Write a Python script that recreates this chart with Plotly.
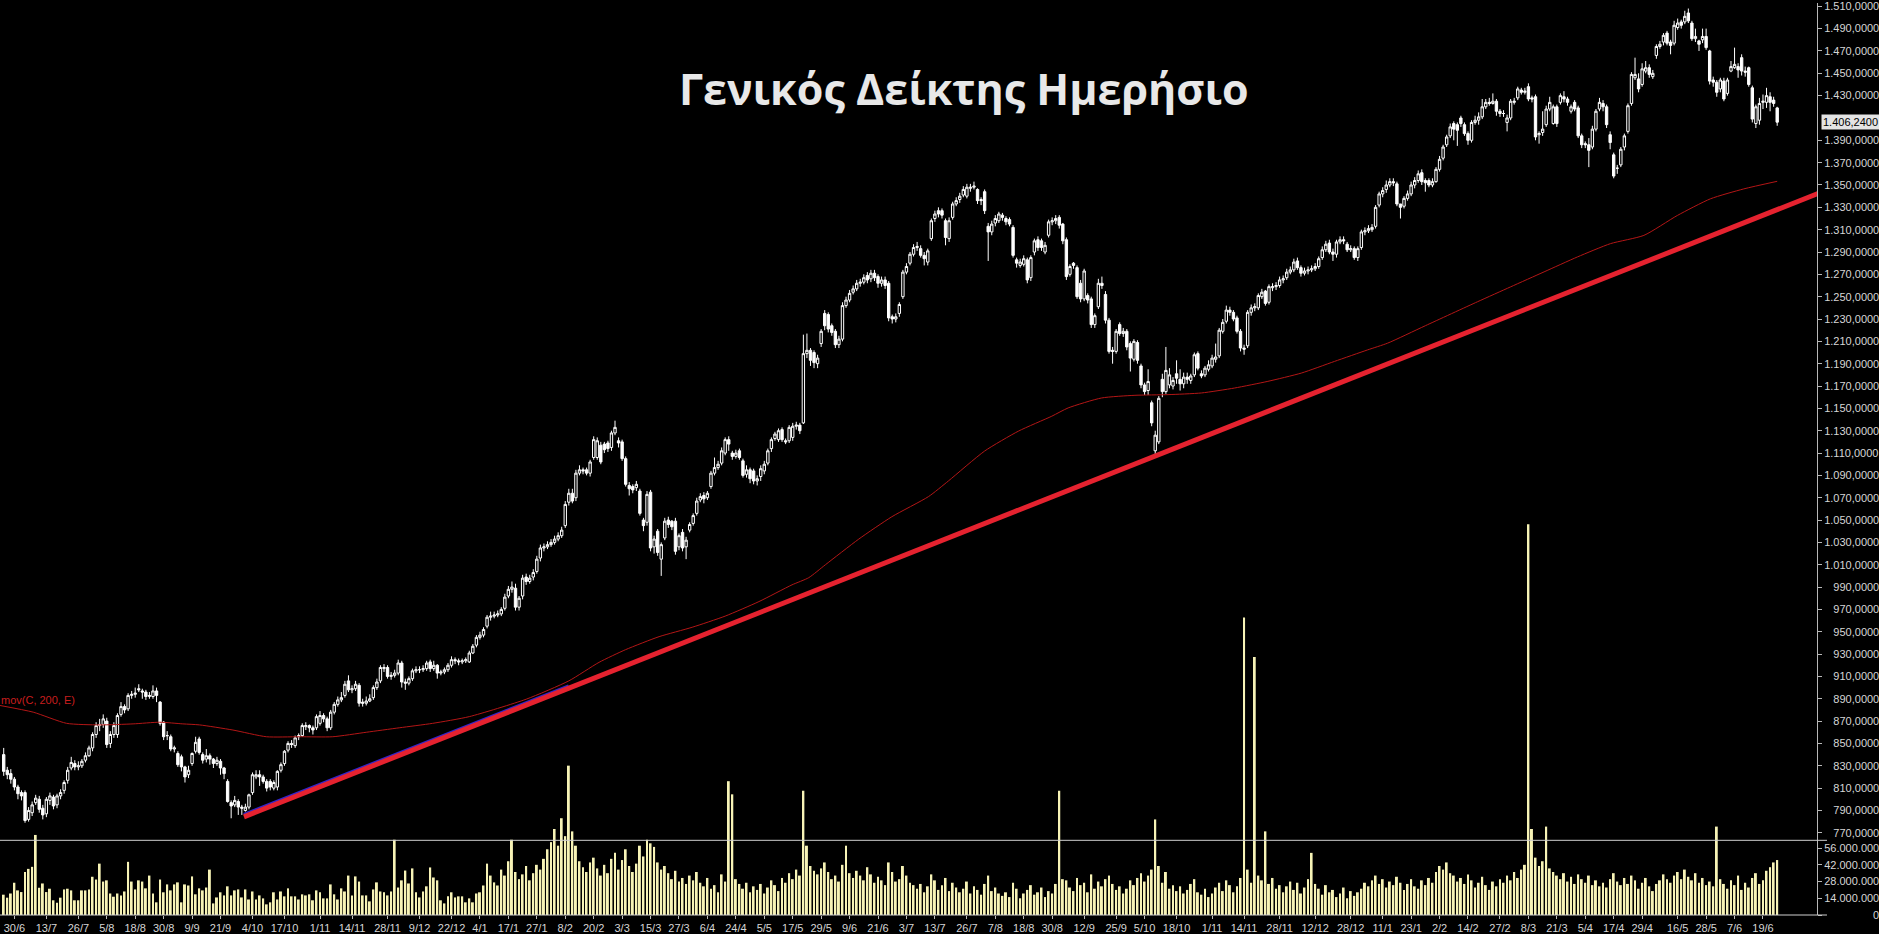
import pandas as pd
import plotly.graph_objects as go

# Athens General Index, daily bars 27/6/2022 .. 26/6/2024
closes = [
    825, 822, 818, 811, 805, 803, 781, 790, 795, 801,
    791, 786, 800, 803, 794, 803, 806, 815, 826, 833,
    829, 830, 834, 839, 846, 858, 866, 867, 872, 849,
    858, 866, 875, 883, 880, 893, 894, 895, 898, 896,
    892, 893, 897, 893, 868, 856, 857, 845, 846, 831,
    829, 820, 826, 841, 851, 842, 835, 839, 836, 832,
    835, 828, 823, 798, 794, 799, 793, 792, 793, 804,
    822, 822, 820, 816, 810, 811, 815, 825, 831, 843,
    850, 849, 855, 857, 866, 866, 864, 862, 874, 875,
    872, 864, 878, 885, 889, 891, 903, 898, 899, 903,
    886, 886, 888, 890, 900, 905, 918, 918, 910, 911,
    913, 922, 905, 904, 908, 915, 916, 916, 917, 922,
    917, 920, 913, 914, 916, 920, 925, 924, 923, 924,
    925, 931, 937, 945, 947, 952, 963, 964, 965, 966,
    970, 981, 988, 990, 972, 980, 998, 995, 998, 1003,
    1015, 1025, 1026, 1028, 1030, 1033, 1036, 1041, 1064, 1074,
    1067, 1092, 1095, 1094, 1092, 1102, 1122, 1121, 1102, 1113,
    1114, 1128, 1133, 1119, 1105, 1082, 1078, 1077, 1082, 1056,
    1045, 1073, 1025, 1033, 1021, 1028, 1049, 1046, 1044, 1022,
    1036, 1025, 1032, 1046, 1054, 1067, 1071, 1069, 1074, 1092,
    1097, 1100, 1112, 1122, 1118, 1107, 1110, 1106, 1090, 1095,
    1087, 1085, 1087, 1096, 1100, 1112, 1122, 1127, 1130, 1122,
    1120, 1133, 1134, 1135, 1130, 1199, 1202, 1193, 1191, 1195,
    1219, 1224, 1221, 1218, 1207, 1212, 1242, 1247, 1253, 1257,
    1262, 1263, 1267, 1265, 1271, 1267, 1262, 1265, 1260, 1231,
    1230, 1232, 1243, 1272, 1277, 1288, 1294, 1295, 1287, 1284,
    1291, 1318, 1324, 1324, 1323, 1303, 1318, 1333, 1336, 1340,
    1346, 1348, 1348, 1349, 1336, 1336, 1327, 1308, 1315, 1320,
    1324, 1321, 1317, 1315, 1287, 1280, 1281, 1284, 1265, 1285,
    1300, 1294, 1294, 1296, 1317, 1318, 1320, 1314, 1300, 1268,
    1277, 1278, 1250, 1248, 1273, 1247, 1225, 1233, 1262, 1260,
    1229, 1201, 1201, 1219, 1217, 1219, 1205, 1195, 1210, 1193,
    1171, 1165, 1174, 1137, 1126, 1159, 1165, 1184, 1180, 1175,
    1177, 1172, 1178, 1176, 1179, 1198, 1186, 1179, 1186, 1189,
    1195, 1196, 1220, 1227, 1238, 1236, 1230, 1219, 1204, 1203,
    1236, 1240, 1241, 1251, 1254, 1244, 1259, 1259, 1260, 1265,
    1266, 1272, 1274, 1281, 1276, 1271, 1273, 1274, 1275, 1277,
    1284, 1292, 1297, 1290, 1288, 1299, 1301, 1300, 1292, 1293,
    1285, 1293, 1308, 1309, 1311, 1312, 1330, 1342, 1345, 1350,
    1353, 1352, 1333, 1330, 1338, 1342, 1350, 1354, 1360, 1353,
    1352, 1350, 1353, 1364, 1373, 1384, 1393, 1402, 1400, 1399,
    1405, 1396, 1390, 1406, 1408, 1411, 1420, 1424, 1423, 1425,
    1416, 1414, 1414, 1410, 1425, 1425, 1436, 1433, 1434, 1427,
    1427, 1393, 1396, 1400, 1418, 1424, 1420, 1405, 1430, 1427,
    1424, 1420, 1418, 1394, 1386, 1386, 1381, 1400, 1416, 1424,
    1420, 1404, 1388, 1358, 1365, 1382, 1394, 1421, 1449, 1449,
    1436, 1454, 1455, 1449, 1450, 1474, 1476, 1484, 1477, 1475,
    1493, 1495, 1493, 1501, 1497, 1481, 1483, 1476, 1483, 1473,
    1443, 1442, 1433, 1444, 1427, 1444, 1456, 1458, 1453, 1452,
    1451, 1440, 1409, 1420, 1423, 1425, 1430, 1424, 1423, 1406.24,
]

opens = [
    840, 826, 823, 818, 811, 806, 806, 782, 788, 797,
    800, 792, 787, 799, 802, 795, 803, 808, 817, 828,
    832, 829, 830, 835, 839, 846, 858, 866, 867, 870,
    850, 858, 858, 876, 883, 881, 893, 894, 899, 897,
    896, 892, 892, 897, 887, 869, 857, 856, 845, 841,
    838, 829, 822, 832, 843, 854, 840, 836, 839, 836,
    832, 834, 828, 816, 797, 795, 798, 793, 790, 793,
    806, 820, 822, 820, 816, 816, 810, 811, 826, 832,
    844, 850, 848, 856, 857, 865, 866, 864, 864, 868,
    875, 872, 864, 878, 885, 889, 893, 906, 898, 899,
    902, 887, 886, 888, 891, 900, 906, 917, 918, 910,
    911, 913, 922, 905, 904, 908, 915, 916, 916, 917,
    923, 917, 920, 913, 914, 916, 920, 925, 924, 923,
    924, 923, 931, 938, 945, 947, 955, 963, 964, 965,
    966, 971, 982, 988, 989, 972, 982, 999, 995, 999,
    1004, 1016, 1025, 1026, 1028, 1030, 1033, 1036, 1045, 1066,
    1074, 1070, 1092, 1095, 1095, 1092, 1106, 1106, 1117, 1118,
    1119, 1115, 1128, 1121, 1120, 1105, 1081, 1080, 1079, 1076,
    1050, 1048, 1075, 1026, 1040, 1015, 1034, 1050, 1049, 1049,
    1026, 1039, 1026, 1041, 1047, 1056, 1068, 1072, 1070, 1080,
    1092, 1097, 1101, 1110, 1122, 1110, 1107, 1112, 1103, 1091,
    1095, 1094, 1085, 1089, 1094, 1101, 1114, 1123, 1122, 1131,
    1121, 1121, 1124, 1134, 1135, 1137, 1199, 1202, 1200, 1190,
    1208, 1235, 1234, 1224, 1219, 1207, 1212, 1242, 1247, 1254,
    1257, 1262, 1263, 1269, 1266, 1271, 1268, 1262, 1265, 1262,
    1232, 1230, 1235, 1250, 1272, 1280, 1288, 1294, 1293, 1287,
    1281, 1302, 1320, 1327, 1327, 1318, 1302, 1321, 1333, 1337,
    1341, 1340, 1347, 1348, 1346, 1337, 1344, 1313, 1308, 1316,
    1318, 1323, 1320, 1319, 1312, 1283, 1278, 1279, 1283, 1267,
    1290, 1301, 1300, 1290, 1305, 1317, 1318, 1321, 1315, 1301,
    1270, 1280, 1276, 1262, 1248, 1251, 1248, 1225, 1241, 1262,
    1252, 1229, 1202, 1201, 1225, 1217, 1219, 1208, 1194, 1209,
    1188, 1171, 1166, 1155, 1112, 1120, 1176, 1165, 1171, 1170,
    1181, 1176, 1172, 1178, 1175, 1180, 1199, 1181, 1180, 1185,
    1188, 1194, 1197, 1219, 1228, 1238, 1236, 1231, 1219, 1204,
    1206, 1236, 1240, 1240, 1250, 1255, 1245, 1258, 1259, 1260,
    1265, 1267, 1272, 1274, 1282, 1276, 1271, 1273, 1274, 1275,
    1277, 1285, 1292, 1298, 1290, 1288, 1299, 1301, 1297, 1292,
    1293, 1285, 1294, 1308, 1309, 1310, 1313, 1332, 1342, 1346,
    1350, 1353, 1351, 1333, 1331, 1338, 1342, 1350, 1354, 1361,
    1354, 1354, 1350, 1353, 1364, 1374, 1386, 1394, 1405, 1404,
    1410, 1404, 1396, 1390, 1406, 1408, 1411, 1420, 1424, 1423,
    1425, 1416, 1414, 1406, 1410, 1424, 1428, 1435, 1433, 1438,
    1428, 1429, 1395, 1397, 1404, 1418, 1405, 1420, 1424, 1429,
    1427, 1416, 1424, 1419, 1394, 1387, 1386, 1384, 1400, 1418,
    1423, 1420, 1395, 1377, 1365, 1368, 1384, 1398, 1423, 1446,
    1445, 1440, 1452, 1455, 1447, 1466, 1474, 1478, 1486, 1478,
    1477, 1491, 1496, 1496, 1504, 1495, 1481, 1479, 1480, 1483,
    1470, 1444, 1442, 1436, 1443, 1432, 1452, 1455, 1456, 1464,
    1452, 1455, 1437, 1405, 1408, 1424, 1424, 1429, 1426, 1419,
]

highs = [
    846, 829, 827, 820, 813, 808, 808, 793, 798, 804,
    803, 795, 802, 806, 804, 805, 809, 817, 829, 838,
    835, 834, 836, 842, 848, 860, 869, 872, 876, 873,
    861, 869, 877, 887, 885, 895, 897, 900, 903, 899,
    898, 896, 902, 900, 888, 870, 861, 858, 848, 843,
    840, 830, 830, 842, 856, 856, 842, 845, 841, 837,
    838, 836, 829, 818, 799, 803, 800, 795, 796, 805,
    824, 826, 826, 822, 818, 818, 817, 826, 833, 844,
    852, 853, 857, 859, 868, 869, 867, 866, 876, 879,
    877, 874, 880, 887, 892, 896, 906, 911, 902, 906,
    904, 890, 892, 894, 902, 908, 920, 921, 920, 914,
    916, 925, 924, 908, 910, 917, 919, 919, 920, 924,
    925, 924, 921, 916, 918, 922, 928, 927, 926, 926,
    927, 933, 939, 947, 950, 954, 965, 968, 968, 969,
    972, 984, 991, 995, 993, 982, 1001, 1002, 1001, 1006,
    1018, 1028, 1029, 1031, 1033, 1036, 1039, 1044, 1067, 1078,
    1078, 1095, 1099, 1097, 1097, 1104, 1125, 1124, 1120, 1120,
    1121, 1130, 1139, 1124, 1122, 1107, 1084, 1082, 1085, 1078,
    1052, 1076, 1077, 1036, 1042, 1030, 1052, 1053, 1050, 1052,
    1038, 1042, 1035, 1048, 1056, 1070, 1074, 1075, 1076, 1094,
    1106, 1103, 1115, 1124, 1125, 1112, 1113, 1114, 1105, 1099,
    1097, 1096, 1090, 1099, 1103, 1114, 1124, 1129, 1132, 1133,
    1123, 1135, 1137, 1138, 1137, 1216, 1217, 1204, 1202, 1198,
    1221, 1238, 1236, 1226, 1221, 1215, 1245, 1250, 1256, 1260,
    1265, 1266, 1270, 1272, 1274, 1274, 1270, 1268, 1268, 1264,
    1234, 1235, 1245, 1274, 1280, 1290, 1297, 1299, 1296, 1290,
    1293, 1320, 1327, 1330, 1329, 1320, 1321, 1335, 1339, 1343,
    1349, 1351, 1351, 1353, 1347, 1339, 1346, 1316, 1318, 1323,
    1326, 1325, 1322, 1321, 1314, 1285, 1284, 1287, 1285, 1287,
    1302, 1304, 1302, 1299, 1319, 1321, 1323, 1323, 1316, 1303,
    1279, 1281, 1278, 1265, 1275, 1253, 1250, 1235, 1266, 1268,
    1255, 1231, 1205, 1221, 1227, 1222, 1221, 1210, 1212, 1211,
    1190, 1173, 1185, 1157, 1130, 1161, 1181, 1205, 1186, 1178,
    1193, 1185, 1182, 1182, 1181, 1200, 1201, 1184, 1188, 1193,
    1198, 1208, 1222, 1230, 1242, 1241, 1238, 1233, 1221, 1207,
    1238, 1243, 1244, 1253, 1257, 1256, 1261, 1262, 1263, 1268,
    1269, 1275, 1277, 1284, 1285, 1278, 1276, 1277, 1278, 1280,
    1286, 1295, 1300, 1301, 1293, 1301, 1304, 1304, 1299, 1296,
    1295, 1295, 1310, 1312, 1314, 1315, 1332, 1344, 1348, 1354,
    1356, 1356, 1353, 1333, 1340, 1345, 1353, 1357, 1363, 1364,
    1356, 1356, 1356, 1366, 1376, 1386, 1395, 1405, 1407, 1406,
    1412, 1406, 1398, 1408, 1412, 1415, 1427, 1427, 1428, 1432,
    1427, 1418, 1417, 1413, 1427, 1428, 1438, 1437, 1437, 1441,
    1430, 1431, 1398, 1416, 1421, 1429, 1422, 1422, 1432, 1434,
    1429, 1422, 1426, 1421, 1396, 1389, 1392, 1403, 1418, 1428,
    1426, 1422, 1398, 1379, 1368, 1384, 1396, 1423, 1451, 1464,
    1450, 1459, 1461, 1458, 1453, 1476, 1479, 1486, 1488, 1480,
    1497, 1499, 1498, 1506, 1508, 1497, 1490, 1480, 1490, 1490,
    1471, 1447, 1444, 1446, 1446, 1446, 1461, 1473, 1459, 1467,
    1456, 1456, 1439, 1422, 1428, 1431, 1437, 1433, 1429, 1420,
]

lows = [
    821, 818, 814, 808, 800, 799, 779, 780, 785, 795,
    788, 782, 784, 795, 791, 792, 800, 805, 814, 826,
    826, 826, 828, 833, 838, 843, 855, 861, 864, 846,
    846, 855, 855, 874, 877, 879, 890, 891, 896, 890,
    889, 890, 890, 887, 866, 853, 853, 843, 842, 829,
    825, 815, 819, 830, 841, 840, 832, 833, 831, 828,
    830, 822, 818, 797, 783, 793, 786, 786, 789, 791,
    804, 818, 812, 814, 807, 808, 808, 808, 824, 830,
    842, 846, 846, 853, 856, 862, 860, 858, 862, 866,
    869, 861, 862, 876, 883, 887, 891, 896, 895, 897,
    883, 883, 884, 887, 889, 898, 904, 914, 908, 907,
    909, 911, 900, 898, 902, 906, 913, 913, 914, 915,
    914, 915, 908, 911, 912, 914, 918, 921, 920, 921,
    922, 922, 930, 936, 943, 945, 953, 960, 962, 963,
    964, 969, 980, 985, 969, 969, 979, 992, 993, 996,
    1002, 1013, 1022, 1024, 1026, 1028, 1031, 1034, 1043, 1063,
    1065, 1067, 1090, 1091, 1090, 1089, 1104, 1104, 1100, 1110,
    1111, 1112, 1126, 1115, 1103, 1080, 1072, 1074, 1076, 1054,
    1040, 1045, 1022, 1020, 1018, 1000, 1032, 1043, 1041, 1019,
    1023, 1022, 1015, 1039, 1045, 1054, 1066, 1065, 1068, 1078,
    1090, 1095, 1099, 1108, 1112, 1104, 1105, 1104, 1088, 1088,
    1083, 1082, 1081, 1085, 1091, 1099, 1111, 1121, 1120, 1120,
    1118, 1119, 1121, 1131, 1127, 1136, 1195, 1188, 1186, 1186,
    1205, 1220, 1218, 1215, 1204, 1204, 1210, 1240, 1245, 1252,
    1255, 1259, 1261, 1262, 1263, 1264, 1258, 1259, 1257, 1228,
    1226, 1227, 1232, 1248, 1270, 1278, 1286, 1291, 1285, 1278,
    1278, 1300, 1317, 1321, 1320, 1296, 1299, 1319, 1331, 1334,
    1339, 1338, 1344, 1346, 1333, 1332, 1324, 1282, 1305, 1313,
    1316, 1318, 1314, 1313, 1285, 1276, 1276, 1277, 1262, 1264,
    1287, 1291, 1291, 1288, 1303, 1314, 1315, 1311, 1297, 1265,
    1268, 1275, 1248, 1245, 1246, 1244, 1222, 1222, 1239, 1257,
    1226, 1199, 1190, 1199, 1215, 1214, 1202, 1183, 1192, 1190,
    1168, 1162, 1162, 1134, 1106, 1118, 1160, 1163, 1168, 1167,
    1172, 1166, 1168, 1172, 1172, 1178, 1184, 1177, 1178, 1183,
    1186, 1191, 1195, 1217, 1226, 1233, 1228, 1217, 1201, 1198,
    1204, 1233, 1237, 1238, 1248, 1242, 1243, 1255, 1256, 1258,
    1262, 1265, 1270, 1272, 1274, 1268, 1269, 1270, 1272, 1273,
    1275, 1283, 1290, 1288, 1282, 1285, 1297, 1297, 1290, 1290,
    1283, 1282, 1292, 1305, 1307, 1308, 1311, 1330, 1339, 1343,
    1348, 1349, 1331, 1320, 1329, 1336, 1340, 1347, 1352, 1350,
    1344, 1348, 1348, 1352, 1362, 1372, 1384, 1392, 1390, 1385,
    1402, 1394, 1386, 1388, 1404, 1404, 1409, 1418, 1421, 1422,
    1412, 1411, 1411, 1398, 1408, 1422, 1426, 1431, 1431, 1425,
    1424, 1390, 1387, 1394, 1402, 1416, 1404, 1402, 1422, 1424,
    1421, 1414, 1416, 1392, 1383, 1383, 1366, 1382, 1398, 1416,
    1416, 1401, 1382, 1356, 1360, 1366, 1381, 1396, 1421, 1444,
    1433, 1438, 1450, 1446, 1445, 1463, 1472, 1475, 1475, 1467,
    1475, 1489, 1490, 1494, 1495, 1479, 1478, 1470, 1477, 1471,
    1440, 1438, 1429, 1433, 1425, 1430, 1451, 1454, 1446, 1448,
    1447, 1438, 1406, 1401, 1404, 1418, 1419, 1416, 1420, 1403,
]

# volume, millions of shares
volume_m = [
    17, 14.5, 18, 27, 20.6, 19.2, 36, 38.6, 40.3, 67,
    22.8, 26.4, 19.2, 22, 12.3, 10.3, 14.5, 21.4, 22, 20.6,
    12.3, 12.3, 20.6, 20.6, 21.4, 32, 29.7, 43, 28, 29,
    18, 15.3, 18, 16.4, 19.7, 44.5, 28, 21.4, 29, 28,
    22.3, 33, 18, 10.6, 29.7, 19, 25.6, 20.6, 25.6, 27.3,
    10.6, 25.6, 24.7, 32.3, 17.3, 22.3, 20.6, 23, 38, 9.7,
    14.7, 19, 16.4, 24, 16.4, 20.6, 21.4, 14.7, 21.4, 13,
    19.7, 13, 16.4, 13.9, 8.9, 10.6, 19, 13, 19.7, 15.6,
    22.3, 15.6, 15.6, 13, 17.3, 16.4, 17.3, 12.3, 20.6, 19,
    13.9, 13.9, 25.6, 17.3, 13, 22.3, 19.7, 33, 16.4, 32.3,
    28, 16.4, 16.4, 11.4, 21.4, 27.3, 19.7, 19, 16.4, 19.7,
    63, 23, 29, 37.2, 26.4, 39, 19, 14.7, 19.7, 24,
    39.8, 31.4, 29, 12.3, 9.7, 15.6, 19, 14.7, 15.6, 15.6,
    10.6, 13.9, 10.6, 18, 19, 24.7, 43, 33, 27.3, 24.7,
    38, 33, 45, 63, 36, 30, 34, 41, 29, 35,
    42, 38, 47, 55, 61, 72, 58, 81, 66, 125,
    70, 58, 45, 40, 36, 44, 48, 39, 33, 42,
    35, 47, 52, 38, 46, 55, 41, 36, 43, 58,
    49, 63, 60, 57, 44, 38, 41, 35, 30, 37,
    28, 31, 26, 33, 29, 36, 27, 24, 31, 22,
    25, 19, 34, 28, 112, 101, 30, 26, 22, 27,
    19, 24, 21, 26, 18, 23, 29, 25, 20, 31,
    27, 35, 30, 38, 33, 104, 58, 41, 37, 34,
    39, 44, 36, 30, 33, 28, 42, 58, 35, 31,
    37, 33, 29, 40, 34, 27, 32, 29, 25, 44,
    36, 28, 30, 41, 33, 27, 25, 22, 26, 19,
    24, 34, 29, 21, 25, 31, 20, 27, 23, 19,
    22, 28, 18, 24, 21, 17, 26, 33, 20, 23,
    18, 16, 19, 15, 27, 22, 14, 18, 21, 25,
    17, 19, 23, 15, 20, 18, 26, 104, 30, 29,
    23, 20, 31, 25, 27, 19, 34, 22, 28, 24,
    30, 33, 26, 21, 24, 18, 22, 29, 25, 31,
    35, 28, 33, 38, 80, 41, 27, 36, 22, 25,
    20, 24, 18, 21, 26, 30, 19, 17, 22, 15,
    18, 23, 27, 20, 29, 25, 19, 24, 31, 249,
    38, 27, 216, 33, 29, 70, 26, 31, 22, 25,
    19, 24, 28, 21, 27, 18, 23, 30, 52, 26,
    22, 17, 25, 19, 21, 15, 18, 23, 14, 20,
    16, 19, 22, 27, 24, 29, 33, 26, 30, 23,
    28, 25, 32, 27, 21, 26, 30, 24, 22, 29,
    25, 31, 27, 36, 41, 38, 44, 35, 33, 28,
    31, 26, 34, 29, 23, 27, 32, 25, 21, 28,
    24, 30, 27, 33, 29, 36, 31, 38, 42, 327,
    72, 48, 41, 45, 74, 39, 36, 33, 30, 35,
    28, 32, 26, 34, 30, 27, 33, 25, 29, 24,
    27, 23, 30, 35, 28, 25, 31, 26, 33, 29,
    22, 27, 31, 24, 20, 26, 29, 34, 30, 27,
    33, 36, 30, 38, 32, 29, 35, 27, 31, 25,
    28, 24, 74, 30, 26, 22, 29, 25, 33, 21,
    27, 23, 31, 35, 26, 29, 37, 40, 44, 46,
]

# mov(C, 200, E) (bar index, value)
ema_idx = [-1.05, 8.3, 17.7, 27, 36.4, 43.9, 50.4, 55.1, 64.5, 73.9,
           83.2, 92.6, 102, 111.3, 120.7, 131, 147, 159, 167.5, 175,
           184.4, 193.7, 203, 212.5, 221.8, 226.5, 231.2, 240.6, 249.9, 260.2,
           265.8, 276, 285.5, 294.9, 299.5, 308.9, 318.3, 327.6, 337, 346.3,
           355.7, 365.1, 374.4, 383.8, 389.4, 400, 414.7, 424, 433.4, 442.8,
           452.1, 461.5, 470.9, 480.2, 489.6, 499]
ema_val = [884, 878, 868, 866.6, 867.5, 869, 867.5, 866.6, 862, 856,
           856, 856, 860, 864, 868, 874, 889.6, 906, 922.6, 934,
           945.6, 954, 964, 977, 992, 998.4, 1010, 1033, 1053, 1071,
           1085, 1111.8, 1129.6, 1143, 1150.4, 1159.3, 1161.7, 1162.3, 1163.8, 1168.2,
           1174.2, 1181.6, 1192, 1202.4, 1208.4, 1224, 1245.5, 1258.8, 1272.2, 1285.6,
           1297.5, 1304.9, 1322.7, 1337.6, 1346.5, 1353.3]

# hand-drawn support line and its blue under-stroke
trend_idx = [67.6, 510.5]
trend_val = [784.3, 1342.4]
under_idx = [67.6, 159]
under_val = [786.0, 901.2]

# ATHEX closing days in the window
holidays = ["2022-08-15", "2022-10-28", "2022-12-26", "2023-01-06", "2023-02-27",
            "2023-04-07", "2023-04-10", "2023-04-14", "2023-04-17", "2023-05-01",
            "2023-06-05", "2023-08-15", "2023-12-25", "2023-12-26", "2024-01-01",
            "2024-03-18", "2024-03-25", "2024-03-29", "2024-04-01", "2024-05-01",
            "2024-05-03", "2024-05-06", "2024-06-24"]

tick_dates = ["2022-06-30", "2022-07-13", "2022-07-26", "2022-08-05", "2022-08-18",
              "2022-08-30", "2022-09-09", "2022-09-21", "2022-10-04", "2022-10-17",
              "2022-11-01", "2022-11-14", "2022-11-28", "2022-12-09", "2022-12-22",
              "2023-01-04", "2023-01-17", "2023-01-27", "2023-02-08", "2023-02-20",
              "2023-03-03", "2023-03-15", "2023-03-27", "2023-04-06", "2023-04-24",
              "2023-05-05", "2023-05-17", "2023-05-29", "2023-06-09", "2023-06-21",
              "2023-07-03", "2023-07-13", "2023-07-26", "2023-08-07", "2023-08-18",
              "2023-08-30", "2023-09-12", "2023-09-25", "2023-10-05", "2023-10-18",
              "2023-11-01", "2023-11-14", "2023-11-28", "2023-12-12", "2023-12-28",
              "2024-01-11", "2024-01-23", "2024-02-02", "2024-02-14", "2024-02-27",
              "2024-03-08", "2024-03-21", "2024-04-05", "2024-04-17", "2024-04-29",
              "2024-05-16", "2024-05-28", "2024-06-07", "2024-06-19"]

price_ticks = [1510, 1490, 1470, 1450, 1430, 1390, 1370, 1350, 1330, 1310,
               1290, 1270, 1250, 1230, 1210, 1190, 1170, 1150, 1130, 1110,
               1090, 1070, 1050, 1030, 1010, 990, 970, 950, 930, 910,
               890, 870, 850, 830, 810, 790, 770]
volume_ticks_m = [56, 42, 28, 14, 0]
last_price = 1406.24

# ---------------------------------------------------------------------------
days = pd.bdate_range("2022-06-27", "2024-06-26")
days = days[~days.isin(pd.to_datetime(holidays))]
pos = {d.strftime("%Y-%m-%d"): i for i, d in enumerate(days)}
tick_idx = [pos[d] for d in tick_dates if d in pos]
tick_txt = [f"{pd.Timestamp(d).day}/{pd.Timestamp(d).month}" for d in tick_dates if d in pos]

n = len(closes)
idx = list(range(n))


def gr_num(v, dec):
    s = f"{v:,.{dec}f}"
    return s.replace(",", "#").replace(".", ",").replace("#", ".")


FIG = "\u2007"   # figure space: same width as a digit
PUN = "\u2008"   # punctuation space: same width as '.'


def price_label(v):
    s = gr_num(v, 4)
    return s if v >= 1000 else FIG + PUN + s


def vol_label(m):
    if m == 0:
        return FIG * 7 + PUN * 2 + "0"
    return gr_num(m * 1_000_000, 0)


W, H = 1879, 934
MB, MR = 18, 59
plot_h = H - MB
sep_px = 841
price_dom0 = (plot_h - sep_px) / plot_h
px_per_pt = 1.1218
price_top = 1510 + 3.3 / px_per_pt
price_bot = 1510 - (sep_px - 3.3) / px_per_pt
vol_top = plot_h / 16.8 * 14e6
x_left, x_right = -1.045, 510.2

grey = "#b8b8b8"
label_col = "#d6d6d6"
tick_font = dict(family="Liberation Sans, Arial", size=11, color=label_col)

fig = go.Figure()

fig.add_trace(go.Bar(
    x=idx, y=[v * 1e6 for v in volume_m], width=0.55,
    marker=dict(color="#f7f3b6", line_width=0),
    yaxis="y", showlegend=False, hoverinfo="skip",
))

fig.add_trace(go.Candlestick(
    x=idx, open=opens[:n], high=highs[:n], low=lows[:n], close=closes,
    yaxis="y2", showlegend=False, whiskerwidth=0,
    increasing=dict(line=dict(color="#ffffff", width=1), fillcolor="#000000"),
    decreasing=dict(line=dict(color="#ffffff", width=1), fillcolor="#ffffff"),
))

fig.add_trace(go.Scatter(
    x=ema_idx, y=ema_val, mode="lines", yaxis="y2",
    line=dict(color="#b31616", width=1, shape="spline", smoothing=0.6),
    showlegend=False, hoverinfo="skip",
))
fig.add_trace(go.Scatter(
    x=under_idx, y=under_val, mode="lines", yaxis="y2",
    line=dict(color="#3326c8", width=4), showlegend=False, hoverinfo="skip",
))
fig.add_trace(go.Scatter(
    x=trend_idx, y=trend_val, mode="lines", yaxis="y2",
    line=dict(color="#e5222f", width=5), showlegend=False, hoverinfo="skip",
))

fig.update_layout(
    width=W, height=H,
    margin=dict(l=0, r=MR, t=0, b=MB, pad=0),
    paper_bgcolor="#000000", plot_bgcolor="rgba(0,0,0,0)",
    boxgap=0.3, boxgroupgap=0.05,
    xaxis=dict(
        range=[x_left, x_right], showgrid=False, zeroline=False,
        showline=False, ticks="outside", ticklen=3, tickcolor=grey,
        tickvals=tick_idx, ticktext=tick_txt, tickfont=tick_font,
        ticklabeloverflow="allow",
        rangeslider=dict(visible=False), anchor="y",
    ),
    yaxis=dict(
        domain=[0, 1], range=[0, vol_top], side="right", anchor="x",
        showgrid=False, zeroline=False, showline=True, linecolor=grey,
        linewidth=1, ticks="outside", ticklen=4, tickcolor=grey,
        tickvals=[m * 1e6 for m in volume_ticks_m],
        ticktext=[vol_label(m) for m in volume_ticks_m], tickfont=tick_font,
        ticklabeloverflow="allow",
    ),
    yaxis2=dict(
        domain=[price_dom0, 1], range=[price_bot, price_top], side="right",
        anchor="x", showgrid=False, zeroline=False, showline=False,
        ticks="outside", ticklen=4, tickcolor=grey,
        tickvals=price_ticks, ticktext=[price_label(v) for v in price_ticks],
        tickfont=tick_font, ticklabeloverflow="allow",
    ),
    shapes=[
        dict(type="line", xref="paper", yref="paper", x0=0, x1=1.0055,
             y0=price_dom0, y1=price_dom0, line=dict(color="#cfcfcf", width=1)),
        dict(type="line", xref="paper", yref="paper", x0=0, x1=1.0055,
             y0=0, y1=0, line=dict(color="#cfcfcf", width=1)),
    ],
    annotations=[
        dict(text="Γενικός Δείκτης Ημερήσιο", xref="paper", yref="paper",
             x=966 / (W - MR), y=(plot_h - 86) / plot_h, xanchor="center",
             yanchor="middle", showarrow=False,
             font=dict(family="Open Sans", size=43, color="#e8e8e8",
                       weight="bold")),
        dict(text="mov(C, 200, E)", xref="x", yref="y2", x=x_left, y=889,
             xanchor="left", yanchor="middle", showarrow=False, xshift=-1,
             font=dict(family="Liberation Sans, Arial", size=11, color="#c81e1e")),
        dict(text=gr_num(last_price, 4), xref="paper", yref="y2",
             x=1.0022, y=last_price, xanchor="left", yanchor="middle",
             showarrow=False, bgcolor="#e4e4e4", borderpad=1,
             font=dict(family="Liberation Sans, Arial", size=11, color="#000000")),
    ],
)

# the page body keeps its default 8px margin otherwise
fig.write_html("out.html", config={"displayModeBar": False},
               post_script="document.body.style.margin='0';")
